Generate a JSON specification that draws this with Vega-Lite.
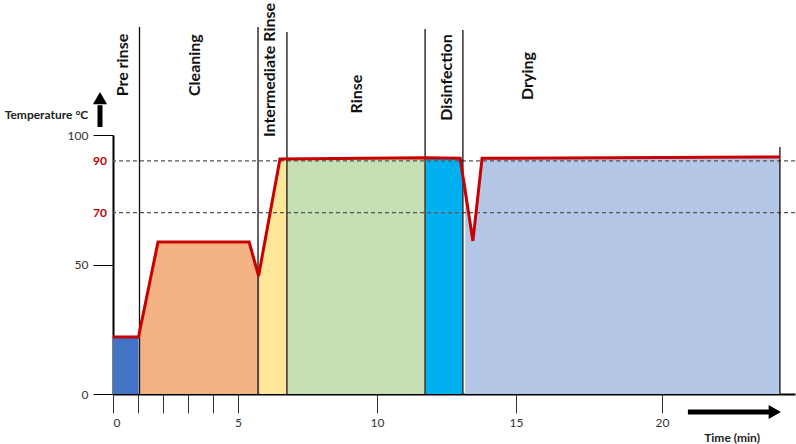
{
  "$schema": "https://vega.github.io/schema/vega-lite/v6.json",
  "width": 682,
  "height": 259,
  "autosize": "none",
  "padding": {"left": 113, "top": 135, "right": 1, "bottom": 50},
  "config": {"view": {"stroke": null}, "font": "Lato"},
  "datasets": {
    "areas": [
      {"phase": "Pre rinse", "t": 0, "temp": 21.7},
      {"phase": "Pre rinse", "t": 1.02, "temp": 21.7},
      {"phase": "Cleaning", "t": 1.05, "temp": 23},
      {"phase": "Cleaning", "t": 1.8, "temp": 58.7},
      {"phase": "Cleaning", "t": 5.4, "temp": 58.7},
      {"phase": "Cleaning", "t": 5.74, "temp": 45.6},
      {"phase": "Cleaning", "t": 5.78, "temp": 47},
      {"phase": "Intermediate Rinse", "t": 5.79, "temp": 47.5},
      {"phase": "Intermediate Rinse", "t": 6.51, "temp": 90.7},
      {"phase": "Intermediate Rinse", "t": 6.76, "temp": 90.7},
      {"phase": "Rinse", "t": 6.78, "temp": 90.7},
      {"phase": "Rinse", "t": 11.73, "temp": 91.2},
      {"phase": "Disinfection", "t": 11.76, "temp": 91.0},
      {"phase": "Disinfection", "t": 13.07, "temp": 91.0},
      {"phase": "Drying", "t": 13.17, "temp": 84.4},
      {"phase": "Drying", "t": 13.45, "temp": 59.1},
      {"phase": "Drying", "t": 13.78, "temp": 91.0},
      {"phase": "Drying", "t": 24.14, "temp": 91.5}
    ],
    "curve": [
      {"t": 0, "temp": 22},
      {"t": 1.02, "temp": 22},
      {"t": 1.8, "temp": 58.7},
      {"t": 5.4, "temp": 58.7},
      {"t": 5.74, "temp": 45.6},
      {"t": 6.51, "temp": 90.7},
      {"t": 11.73, "temp": 91.2},
      {"t": 12.99, "temp": 91.0},
      {"t": 13.45, "temp": 59.1},
      {"t": 13.78, "temp": 91.0},
      {"t": 24.14, "temp": 91.5}
    ],
    "bounds": [
      {"t": 1.06, "base": 0, "top": 141.7},
      {"t": 5.72, "base": 0, "top": 141.7},
      {"t": 6.76, "base": 0, "top": 139.8},
      {"t": 11.73, "base": 0, "top": 140.9},
      {"t": 13.09, "base": 0, "top": 140.5},
      {"t": 24.14, "base": 0, "top": 95.4}
    ],
    "labels": [
      {"phase": "Pre rinse", "t": 0.4, "temp": 127},
      {"phase": "Cleaning", "t": 3.28, "temp": 127},
      {"phase": "Intermediate Rinse", "t": 6.15, "temp": 125.1},
      {"phase": "Rinse", "t": 9.28, "temp": 115.8},
      {"phase": "Disinfection", "t": 12.5, "temp": 122.2},
      {"phase": "Drying", "t": 15.41, "temp": 122.8}
    ],
    "thresholds": [
      {"t": 0, "temp": 90, "label": "90"},
      {"t": 0, "temp": 70, "label": "70"}
    ]
  },
  "layer": [
    {
      "data": {"name": "areas"},
      "mark": {"type": "area", "opacity": 1},
      "encoding": {
        "x": {
          "field": "t", "type": "quantitative",
          "scale": {"domain": [0, 5, 10, 15, 20, 24.67], "range": [0, 125, 264, 403, 549, 682], "nice": false, "zero": false},
          "axis": {
            "title": null, "values": [0, 1, 2, 3, 4, 5, 10, 15, 20],
            "labelExpr": "datum.value % 5 === 0 ? datum.label : ''",
            "grid": false, "tickSize": 19, "tickColor": "#333", "tickWidth": 1,
            "domainColor": "#000", "domainWidth": 2,
            "labelFontSize": 12, "labelColor": "#333", "labelPadding": 4, "labelFont": "Lato"
          }
        },
        "y": {
          "field": "temp", "type": "quantitative", "stack": null,
          "scale": {"domain": [0, 100], "nice": false},
          "axis": {
            "title": null, "values": [0, 50, 100], "grid": false,
            "tickSize": 20, "tickColor": "#000", "tickWidth": 1,
            "domainColor": "#000", "domainWidth": 2,
            "labelFontSize": 12, "labelColor": "#333", "labelPadding": 5, "labelFont": "Lato"
          }
        },
        "color": {
          "field": "phase", "type": "nominal", "legend": null,
          "scale": {
            "domain": ["Pre rinse", "Cleaning", "Intermediate Rinse", "Rinse", "Disinfection", "Drying"],
            "range": ["#4472C4", "#F4B183", "#FFE699", "#C5E0B4", "#00B0F0", "#B4C7E7"]
          }
        }
      }
    },
    {
      "data": {"name": "thresholds"},
      "mark": {"type": "rule", "color": "#555", "strokeDash": [4, 3], "strokeWidth": 1.2},
      "encoding": {
        "y": {"field": "temp", "type": "quantitative"}
      }
    },
    {
      "data": {"name": "bounds"},
      "mark": {"type": "rule", "color": "#111", "strokeWidth": 1.3},
      "encoding": {
        "x": {"field": "t", "type": "quantitative"},
        "y": {"field": "base", "type": "quantitative"},
        "y2": {"field": "top"}
      }
    },
    {
      "data": {"name": "curve"},
      "mark": {"type": "line", "color": "#C80000", "strokeWidth": 3, "strokeJoin": "miter"},
      "encoding": {
        "x": {"field": "t", "type": "quantitative"},
        "y": {"field": "temp", "type": "quantitative"}
      }
    },
    {
      "data": {"name": "labels"},
      "mark": {"type": "text", "angle": 270, "align": "center", "baseline": "middle", "fontSize": 16, "fontWeight": "bold", "font": "Lato", "color": "#111"},
      "encoding": {
        "x": {"field": "t", "type": "quantitative"},
        "y": {"field": "temp", "type": "quantitative"},
        "text": {"field": "phase"}
      }
    },
    {
      "data": {"name": "thresholds"},
      "mark": {"type": "text", "align": "right", "baseline": "middle", "dx": -6, "fontSize": 12, "fontWeight": "bold", "font": "Lato", "color": "#C00000"},
      "encoding": {
        "x": {"field": "t", "type": "quantitative"},
        "y": {"field": "temp", "type": "quantitative"},
        "text": {"field": "label"}
      }
    },
    {
      "data": {"values": [
        {"text": "Temperature °C", "t": -2.66, "temp": 107.7},
        {"text": "Time (min)", "t": 22.46, "temp": -17}
      ]},
      "mark": {"type": "text", "align": "center", "baseline": "middle", "fontSize": 12, "fontWeight": "bold", "font": "Lato", "color": "#222"},
      "encoding": {
        "x": {"field": "t", "type": "quantitative"},
        "y": {"field": "temp", "type": "quantitative"},
        "text": {"field": "text"}
      }
    },
    {
      "data": {"values": [
        {"t": 20.91, "t2": 23.79, "temp": -6.95, "temp2": -6.95},
        {"t": -0.52, "t2": -0.52, "temp": 103.1, "temp2": 111.5}
      ]},
      "mark": {"type": "rule", "color": "#000", "strokeWidth": 5},
      "encoding": {
        "x": {"field": "t", "type": "quantitative"},
        "x2": {"field": "t2"},
        "y": {"field": "temp", "type": "quantitative"},
        "y2": {"field": "temp2"}
      }
    },
    {
      "data": {"values": [
        {"dir": "right", "t": 23.96, "temp": -6.95},
        {"dir": "up", "t": -0.52, "temp": 114.2}
      ]},
      "mark": {"type": "point", "filled": true, "color": "#000", "opacity": 1, "size": 200},
      "encoding": {
        "x": {"field": "t", "type": "quantitative"},
        "y": {"field": "temp", "type": "quantitative"},
        "shape": {"field": "dir", "type": "nominal", "legend": null,
          "scale": {"domain": ["right", "up"], "range": ["triangle-right", "triangle-up"]}}
      }
    }
  ]
}
